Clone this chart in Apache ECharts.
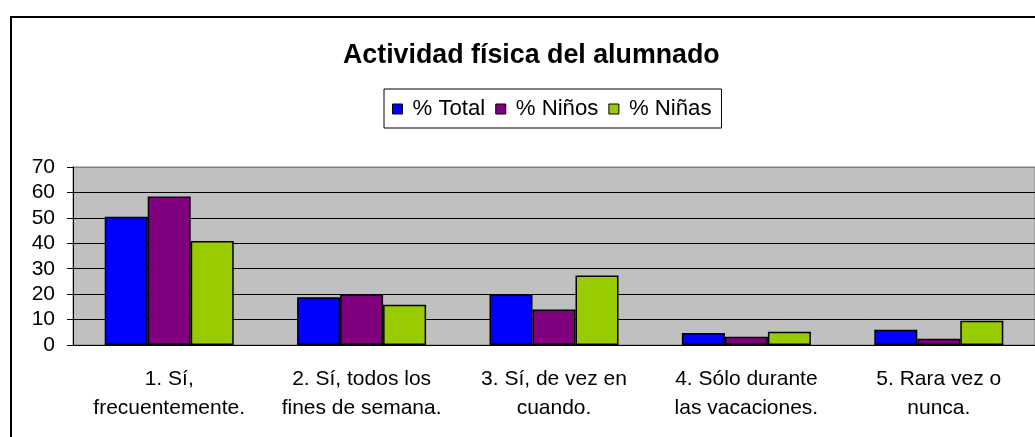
<!DOCTYPE html>
<html>
<head>
<meta charset="utf-8">
<script src="https://cdn.jsdelivr.net/npm/echarts@6/dist/echarts.min.js"></script>
<style>
  html, body { margin: 0; padding: 0; background: #fff; overflow: hidden; }
  #chart { width: 1035px; height: 437px; }
</style>
</head>
<body>
<div id="chart"></div>
<script>
// datos
var categories = [
  '1. Sí,\nfrecuentemente.',
  '2. Sí, todos los\nfines de semana.',
  '3. Sí, de vez en\ncuando.',
  '4. Sólo durante\nlas vacaciones.',
  '5. Rara vez o\nnunca.'
];
var seriesNames = ['% Total', '% Niños', '% Niñas'];
var totalValues = [50.4, 18.8, 20.0, 4.7, 6.0];
var ninosValues = [58.4, 20.0, 14.0, 3.2, 2.5];
var ninasValues = [40.9, 15.8, 27.3, 5.2, 9.5];
var yTicks = [0, 10, 20, 30, 40, 50, 60, 70];

var colors = ['#0000FF', '#800080', '#99CC00'];
var font = 'Liberation Sans, Arial, sans-serif';

var chart = echarts.init(document.getElementById('chart'), null, { renderer: 'canvas' });

function barSeries(name, values, color) {
  return {
    name: name,
    type: 'bar',
    barWidth: 43,
    barGap: '0%',
    data: values,
    itemStyle: {
      color: color,
      borderColor: '#000',
      borderWidth: 1.5
    },
    emphasis: { disabled: true }
  };
}

var option = {
  animation: false,
  color: colors,
  textStyle: { fontFamily: font },
  // marco exterior del area del grafico (cortado a la derecha y abajo)
  graphic: [{
    type: 'rect',
    shape: { x: 11, y: 17, width: 1200, height: 600 },
    style: { fill: 'none', stroke: '#000', lineWidth: 2 },
    silent: true
  }],
  title: {
    text: 'Actividad física del alumnado',
    left: 343,
    top: 42,
    padding: 0,
    textStyle: {
      fontFamily: font,
      fontSize: 26.8,
      fontWeight: 'bold',
      color: '#000'
    }
  },
  legend: {
    data: seriesNames,
    left: 384,
    top: 89,
    padding: [9, 10, 8, 8],
    itemGap: 10,
    itemWidth: 10,
    itemHeight: 10,
    icon: 'rect',
    borderColor: '#000',
    borderWidth: 1,
    backgroundColor: '#fff',
    selectedMode: false,
    itemStyle: { borderColor: '#000', borderWidth: 1 },
    textStyle: {
      fontFamily: font,
      fontSize: 22.2,
      color: '#000',
      padding: [0, 0, 0, 5]
    }
  },
  grid: {
    left: 73,
    top: 167,
    right: 0,
    bottom: 92,
    show: true,
    backgroundColor: '#C0C0C0',
    borderColor: '#808080',
    borderWidth: 1
  },
  xAxis: {
    type: 'category',
    data: categories,
    axisLine: { lineStyle: { color: '#000', width: 1 } },
    axisTick: { length: 6, lineStyle: { color: '#000' } },
    axisLabel: {
      interval: 0,
      margin: 20,
      fontFamily: font,
      fontSize: 21,
      lineHeight: 29,
      color: '#000',
      align: 'center'
    }
  },
  yAxis: {
    type: 'value',
    min: yTicks[0],
    max: yTicks[yTicks.length - 1],
    interval: 10,
    axisLine: { show: true, lineStyle: { color: '#000', width: 1 } },
    axisTick: { show: true, length: 6, lineStyle: { color: '#000' } },
    axisLabel: {
      margin: 18,
      fontFamily: font,
      fontSize: 21,
      color: '#000'
    },
    splitLine: {
      show: true,
      lineStyle: {
        color: ['#000', '#000', '#000', '#000', '#000', '#000', '#000', '#808080'],
        width: 1
      }
    }
  },
  series: [
    barSeries(seriesNames[0], totalValues, colors[0]),
    barSeries(seriesNames[1], ninosValues, colors[1]),
    barSeries(seriesNames[2], ninasValues, colors[2])
  ]
};

chart.setOption(option);
</script>
</body>
</html>
